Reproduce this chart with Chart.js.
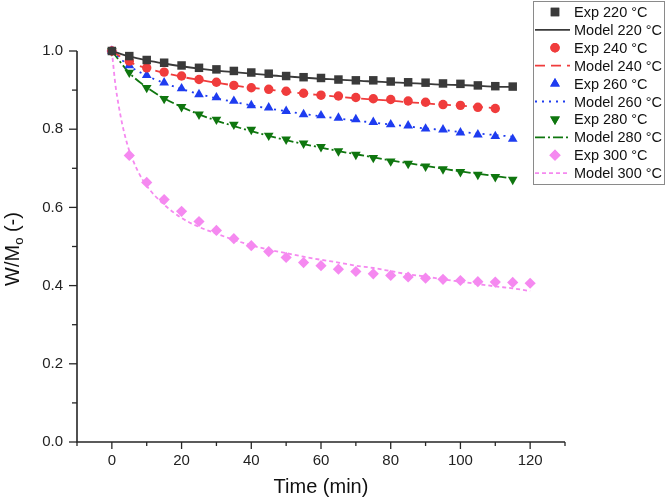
<!DOCTYPE html>
<html>
<head>
<meta charset="utf-8">
<script src="https://cdn.jsdelivr.net/npm/chart.js@4/dist/chart.umd.min.js"></script>
<style>
  html, body { margin: 0; padding: 0; background: #fff; }
  #wrap { width: 666px; height: 503px; }
</style>
</head>
<body>
<div id="wrap"><canvas id="massChart"></canvas></div>
<script>
// experimental data, W/Mo vs time (min)
const time115 = [0, 5, 10, 15, 20, 25, 30, 35, 40, 45, 50, 55, 60, 65, 70, 75, 80, 85, 90, 95, 100, 105, 110, 115];
const time110 = [0, 5, 10, 15, 20, 25, 30, 35, 40, 45, 50, 55, 60, 65, 70, 75, 80, 85, 90, 95, 100, 105, 110];
const time120 = [0, 5, 10, 15, 20, 25, 30, 35, 40, 45, 50, 55, 60, 65, 70, 75, 80, 85, 90, 95, 100, 105, 110, 115, 120];

const exp220 = [1.0, 0.987, 0.977, 0.970, 0.963, 0.957, 0.953, 0.949, 0.945, 0.942, 0.936, 0.933, 0.931, 0.927, 0.925, 0.925, 0.922, 0.920, 0.919, 0.917, 0.916, 0.912, 0.910, 0.909];
const exp240 = [1.0, 0.974, 0.957, 0.946, 0.936, 0.927, 0.920, 0.912, 0.906, 0.902, 0.897, 0.892, 0.887, 0.885, 0.881, 0.878, 0.876, 0.872, 0.869, 0.863, 0.861, 0.856, 0.853];
const exp260 = [1.0, 0.963, 0.938, 0.919, 0.904, 0.889, 0.881, 0.872, 0.861, 0.855, 0.846, 0.838, 0.835, 0.829, 0.825, 0.818, 0.812, 0.809, 0.801, 0.799, 0.791, 0.786, 0.782, 0.775];
const exp280 = [1.0, 0.945, 0.906, 0.878, 0.857, 0.838, 0.825, 0.812, 0.799, 0.784, 0.774, 0.764, 0.755, 0.744, 0.735, 0.727, 0.718, 0.712, 0.705, 0.698, 0.691, 0.684, 0.678, 0.671];
const exp300 = [1.0, 0.733, 0.664, 0.620, 0.590, 0.564, 0.541, 0.520, 0.502, 0.487, 0.472, 0.459, 0.451, 0.442, 0.436, 0.430, 0.426, 0.422, 0.419, 0.416, 0.413, 0.410, 0.409, 0.408, 0.406];

// model curves
const model220 = [1.0, 0.986, 0.976, 0.968, 0.961, 0.955, 0.950, 0.946, 0.942, 0.938, 0.935, 0.932, 0.929, 0.927, 0.924, 0.922, 0.920, 0.918, 0.916, 0.914, 0.913, 0.911, 0.909, 0.908];
const model240 = [1.0, 0.972, 0.956, 0.944, 0.934, 0.926, 0.919, 0.912, 0.906, 0.901, 0.896, 0.891, 0.887, 0.883, 0.879, 0.876, 0.873, 0.869, 0.866, 0.863, 0.860, 0.857, 0.854];
const model260 = [1.0, 0.962, 0.937, 0.918, 0.903, 0.890, 0.879, 0.870, 0.861, 0.853, 0.846, 0.839, 0.833, 0.827, 0.822, 0.817, 0.812, 0.807, 0.802, 0.798, 0.793, 0.789, 0.785, 0.781];
const model280 = [1.0, 0.944, 0.907, 0.879, 0.857, 0.838, 0.822, 0.808, 0.795, 0.783, 0.772, 0.762, 0.753, 0.744, 0.736, 0.728, 0.720, 0.713, 0.706, 0.699, 0.692, 0.686, 0.680, 0.674];
const model300Time = [0, 1, 2, 3, 4, 5, 7.5, 10, 15, 20, 25, 30, 35, 40, 45, 50, 55, 60, 65, 70, 75, 80, 85, 90, 95, 100, 105, 110, 115, 120];
const model300 = [1.0, 0.915, 0.858, 0.812, 0.775, 0.745, 0.692, 0.655, 0.607, 0.573, 0.550, 0.533, 0.517, 0.503, 0.492, 0.483, 0.474, 0.466, 0.459, 0.451, 0.445, 0.437, 0.429, 0.423, 0.416, 0.410, 0.404, 0.398, 0.393, 0.386];

const axisColor = "#262626";
const fontName = "'Liberation Sans', Arial, sans-serif";

function pts(xs, ys) {
  return xs.map((x, i) => ({ x: x, y: ys[i] }));
}

function expSet(label, xs, ys, color, style, radius, rotation) {
  return {
    label: label,
    data: pts(xs, ys),
    showLine: false,
    pointStyle: style,
    pointRadius: radius,
    pointHoverRadius: radius,
    pointRotation: rotation || 0,
    pointBackgroundColor: color,
    pointBorderColor: color,
    pointBorderWidth: 0,
    borderColor: color,
    backgroundColor: color,
    clip: false,
  };
}

function modelSet(label, xs, ys, color, dash) {
  return {
    label: label,
    data: pts(xs, ys),
    showLine: true,
    borderColor: color,
    backgroundColor: color,
    borderWidth: 1.8,
    borderDash: dash,
    pointRadius: 0,
    cubicInterpolationMode: "monotone",
    fill: false,
    clip: false,
  };
}

// legend box drawn inside the top right corner
const boxLegend = {
  id: "boxLegend",
  afterDraw(chart) {
    const ctx = chart.ctx;
    const x0 = 533, y0 = 1, w = 131, h = 183;
    ctx.save();
    ctx.fillStyle = "#fff";
    ctx.fillRect(x0, y0, w, h);
    ctx.strokeStyle = "#8a8a8a";
    ctx.lineWidth = 1;
    ctx.strokeRect(x0 + 0.5, y0 + 0.5, w, h);
    ctx.font = "14.5px " + fontName;
    ctx.textBaseline = "middle";
    chart.data.datasets.forEach((ds, i) => {
      const yy = 12 + i * 17.9;
      if (ds.showLine) {
        ctx.strokeStyle = ds.borderColor;
        ctx.lineWidth = ds.borderWidth;
        ctx.setLineDash(ds.borderDash || []);
        ctx.beginPath();
        ctx.moveTo(535, yy);
        ctx.lineTo(570, yy);
        ctx.stroke();
        ctx.setLineDash([]);
      } else {
        ctx.fillStyle = ds.pointBackgroundColor;
        Chart.helpers.drawPoint(ctx, {
          pointStyle: ds.pointStyle,
          radius: ds.pointRadius,
          rotation: ds.pointRotation,
          borderWidth: 0,
        }, 555, yy);
        ctx.fill();
      }
      ctx.fillStyle = "#111";
      ctx.fillText(ds.label, 574, yy + 1);
    });
    ctx.restore();
  },
};

// axis lines, major/minor ticks and the y title with subscript
const axisDecor = {
  id: "axisDecor",
  afterDraw(chart) {
    const ctx = chart.ctx;
    const xs = chart.scales.x, ys = chart.scales.y;
    const area = chart.chartArea;
    ctx.save();
    ctx.strokeStyle = axisColor;
    ctx.lineWidth = 1.6;
    ctx.beginPath();
    ctx.moveTo(area.left, area.top);
    ctx.lineTo(area.left, area.bottom);
    ctx.lineTo(area.right, area.bottom);
    ctx.stroke();
    ctx.lineWidth = 1.3;
    xs.ticks.forEach(t => {
      const px = xs.getPixelForValue(t.value);
      const major = Math.round(t.value) % 20 === 0;
      ctx.beginPath();
      ctx.moveTo(px, area.bottom);
      ctx.lineTo(px, area.bottom + (major ? 7 : 4));
      ctx.stroke();
    });
    ys.ticks.forEach(t => {
      const py = ys.getPixelForValue(t.value);
      const major = Math.round(t.value * 10) % 2 === 0;
      ctx.beginPath();
      ctx.moveTo(area.left, py);
      ctx.lineTo(area.left - (major ? 8 : 5), py);
      ctx.stroke();
    });
    // y title
    ctx.translate(19, 249);
    ctx.rotate(-Math.PI / 2);
    ctx.fillStyle = "#111";
    ctx.textBaseline = "alphabetic";
    const big = "20px " + fontName, small = "13px " + fontName;
    ctx.font = big;
    const w1 = ctx.measureText("W/M").width;
    const w3 = ctx.measureText(" (-)").width;
    ctx.font = small;
    const w2 = ctx.measureText("o").width;
    let cx = -(w1 + w2 + w3) / 2;
    ctx.font = big;
    ctx.fillText("W/M", cx, 0);
    cx += w1;
    ctx.font = small;
    ctx.fillText("o", cx, 4);
    cx += w2;
    ctx.font = big;
    ctx.fillText(" (-)", cx, 0);
    ctx.restore();
  },
};

const ctx = document.getElementById("massChart").getContext("2d");
const massChart = new Chart(ctx, {
  type: "scatter",
  data: {
    datasets: [
      expSet("Exp 220 °C", time115, exp220, "#3a3a3a", "rect", 6),
      modelSet("Model 220 °C", time115, model220, "#3a3a3a", []),
      expSet("Exp 240 °C", time110, exp240, "#f03c3c", "circle", 4.7),
      modelSet("Model 240 °C", time110, model240, "#f03c3c", [10, 6]),
      expSet("Exp 260 °C", time115, exp260, "#1e3cf0", "triangle", 5.6),
      modelSet("Model 260 °C", time115, model260, "#1e3cf0", [2, 5]),
      expSet("Exp 280 °C", time115, exp280, "#0f760f", "triangle", 5.6, 180),
      modelSet("Model 280 °C", time115, model280, "#0f760f", [10, 3, 2, 3]),
      expSet("Exp 300 °C", time120, exp300, "#f589f0", "rectRot", 5.6),
      modelSet("Model 300 °C", model300Time, model300, "#f589f0", [4, 3]),
    ],
  },
  options: {
    responsive: true,
    maintainAspectRatio: false,
    animation: false,
    layout: { padding: { left: 0, right: 101, top: 51, bottom: 0 } },
    plugins: {
      legend: { display: false },
      tooltip: { enabled: false },
    },
    scales: {
      x: {
        type: "linear",
        min: -10,
        max: 130,
        grid: { display: false, drawTicks: false },
        border: { display: false },
        ticks: {
          stepSize: 10,
          autoSkip: false,
          maxRotation: 0,
          padding: 10,
          color: "#222",
          font: { family: fontName, size: 15 },
          callback: v => (v >= 0 && v <= 120 && Math.round(v) % 20 === 0 ? String(v) : ""),
        },
        title: {
          display: true,
          text: "Time (min)",
          color: "#111",
          font: { family: fontName, size: 20 },
          padding: { top: 6 },
        },
        afterFit: s => { s.height = 61; },
      },
      y: {
        min: 0,
        max: 1.0,
        grid: { display: false, drawTicks: false },
        border: { display: false },
        ticks: {
          stepSize: 0.1,
          autoSkip: false,
          padding: 14,
          color: "#222",
          font: { family: fontName, size: 15 },
          callback: v => (Math.round(v * 10) % 2 === 0 ? v.toFixed(1) : ""),
        },
        afterFit: s => { s.width = 77; },
      },
    },
  },
  plugins: [axisDecor, boxLegend],
});
</script>
</body>
</html>
